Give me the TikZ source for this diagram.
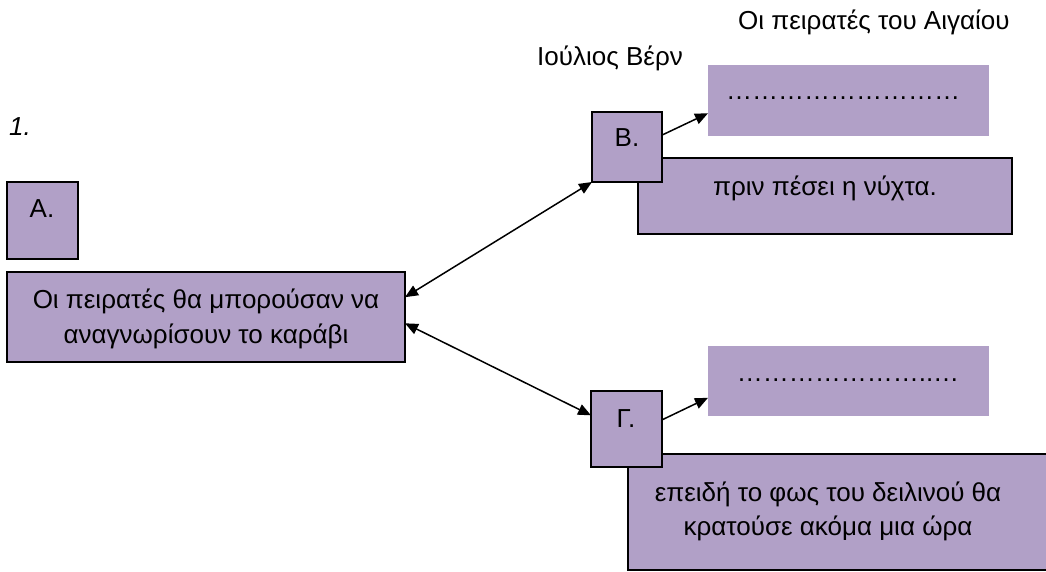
\documentclass[tikz,border=0pt]{standalone}
\usepackage{fontspec}
\setmainfont{Liberation Sans}
\usetikzlibrary{arrows.meta,calc}
\definecolor{lav}{HTML}{B1A0C7}
\begin{document}
\begin{tikzpicture}[x=1pt,y=-1pt,
  box/.style={draw=black, line width=1.5pt, fill=lav, inner sep=0pt, outer sep=0pt, anchor=north west},
  plain/.style={fill=lav, draw=none, inner sep=0pt, outer sep=0pt, anchor=north west},
  txt/.style={inner sep=0pt, anchor=base, font=\fontsize{26}{31}\selectfont},
  arr/.style={-{Triangle[length=13pt,width=11pt]}, line width=1.5pt},
  biarr/.style={{Triangle[length=13pt,width=11pt]}-{Triangle[length=13pt,width=11pt]}, line width=1.5pt}]
\useasboundingbox (0,0) rectangle (1046,572);
\clip (0,0) rectangle (1046,572);
% headings
\node[txt, anchor=base west] (title) at (738,30) {Οι πειρατές του Αιγαίου};
\node[txt, anchor=base west] (author) at (537,66) {Ιούλιος Βέρν};
\node[txt, anchor=base west, font=\fontsize{26}{31}\selectfont\itshape] (num) at (9,136) {1.};
% left side
\node[box, minimum width=71pt, minimum height=77pt] (A) at (7,182) {};
\node[txt] (Atxt) at (42,218) {Α.};
\node[box, minimum width=398pt, minimum height=90pt] (main) at (7,272) {};
\node[txt] (m1) at (206,308) {Οι πειρατές θα μπορούσαν να};
\node[txt] (m2) at (206,343) {αναγνωρίσουν το καράβι};
% upper right
\node[plain, minimum width=281pt, minimum height=71pt] (d1) at (708,65) {};
\node[txt] (d1txt) at (843,100) {………………………};
\node[box, minimum width=374pt, minimum height=76pt] (b1) at (638,158) {};
\node[txt] (b1txt) at (825,196) {πριν πέσει η νύχτα.};
\node[box, minimum width=70pt, minimum height=70pt] (B) at (592,112) {};
\node[txt] (Btxt) at (627,147) {Β.};
% lower right
\node[plain, minimum width=281pt, minimum height=70pt] (d2) at (708,346) {};
\node[txt] (d2txt) at (848,381) {…………………..…};
\node[box, minimum width=440pt, minimum height=116pt] (b2) at (628,454) {};
\node[txt] (b2l1) at (828,501) {επειδή το φως του δειλινού θα};
\node[txt] (b2l2) at (828,535) {κρατούσε ακόμα μια ώρα};
\node[box, minimum width=71pt, minimum height=76pt] (G) at (591,391) {};
\node[txt] (Gtxt) at (626,427) {Γ.};
% connectors
\draw[biarr] ($(main.north east)!0.28!(main.south east)$) -- (B.south west);
\draw[biarr] ($(main.north east)!0.57!(main.south east)$) -- ($(G.north west)!0.32!(G.south west)$);
\draw[arr] ($(B.north east)!0.33!(B.south east)$) -- ($(d1.north west)!0.68!(d1.south west)$);
\draw[arr] ($(G.north east)!0.38!(G.south east)$) -- ($(d2.north west)!0.74!(d2.south west)$);
\end{tikzpicture}
\end{document}
